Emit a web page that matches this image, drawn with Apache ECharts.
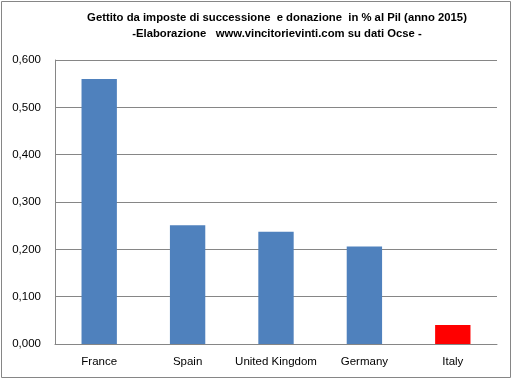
<!DOCTYPE html>
<html><head><meta charset="utf-8">
<script src="https://cdn.jsdelivr.net/npm/echarts@6/dist/echarts.min.js"></script>
<style>html,body{margin:0;padding:0;background:#fff}#c{width:513px;height:381px}</style>
</head><body><div id="c"></div>
<script>
const categories = ["France", "Spain", "United Kingdom", "Germany", "Italy"];
const values = [0.560, 0.251, 0.237, 0.206, 0.040];
const barColors = ["#4F81BD", "#4F81BD", "#4F81BD", "#4F81BD", "#FF0000"];
const titleLine1 = "Gettito da imposte di successione  e donazione  in % al Pil (anno 2015)";
const titleLine2 = "-Elaborazione   www.vincitorievinti.com su dati Ocse -";

const chart = echarts.init(document.getElementById('c'));
const font = "'Liberation Sans', Arial, sans-serif";
chart.setOption({
  animation: false,
  title: {
    text: titleLine1 + "\n" + titleLine2,
    left: 272, top: 5, textAlign: 'center',
    textStyle: { fontFamily: font, fontSize: 11.3, fontWeight: 'bold', color: '#000', lineHeight: 16 }
  },
  graphic: [{ type: 'rect', shape: { x: 1.5, y: 1.5, width: 509, height: 376 }, style: { fill: 'none', stroke: '#868686', lineWidth: 1 }, silent: true }],
  grid: { left: 55, right: 16, top: 60, bottom: 37 },
  xAxis: {
    type: 'category', data: categories,
    axisLine: { lineStyle: { color: '#868686' } },
    axisTick: { show: false },
    axisLabel: { interval: 0, color: '#000', fontFamily: font, fontSize: 11.5, margin: 12 }
  },
  yAxis: {
    type: 'value', min: 0, max: 0.6, interval: 0.1,
    axisLine: { show: true, lineStyle: { color: '#868686' } },
    axisTick: { show: false },
    splitLine: { lineStyle: { color: '#868686' } },
    axisLabel: { color: '#000', fontFamily: font, fontSize: 11.5, margin: 14,
      formatter: v => v.toFixed(3).replace('.', ',') }
  },
  series: [{
    type: 'bar', barWidth: '40%',
    data: values.map((v, i) => ({ value: v, itemStyle: { color: barColors[i] } }))
  }]
});
</script></body></html>
